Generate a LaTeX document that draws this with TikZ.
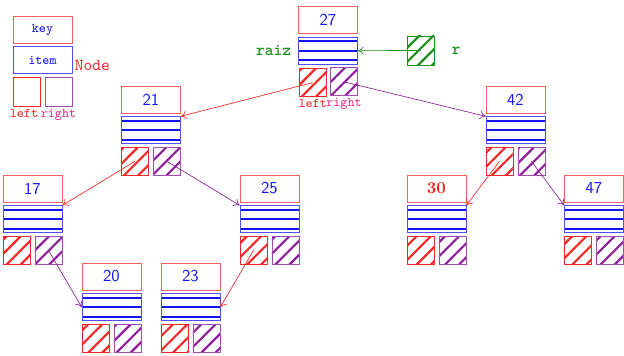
\documentclass[tikz,border=0pt]{standalone}
\definecolor{cRed}{HTML}{F02828}
\definecolor{cPurp}{HTML}{8E1E9C}
\definecolor{cPink}{HTML}{E0338C}
\definecolor{cGrn}{HTML}{1C921C}
\definecolor{cBlu}{HTML}{1414F0}
\usetikzlibrary{positioning,calc,patterns.meta,arrows.meta}

\begin{document}
\begin{tikzpicture}[x=0.6pt,y=-0.6pt,
      kbox/.style={draw=cRed!75,minimum width=35.4pt,minimum height=16.2pt,
                   inner sep=0pt,font=\sffamily,text=cBlu},
      ibox/.style={draw=cBlu!75,minimum width=35.4pt,minimum height=16.2pt,
                   inner sep=0pt,font=\footnotesize\ttfamily,text=cBlu},
      lines/.style={ibox,path picture={
                   \foreach \f in {0.15,0.5,0.85}
                     \draw[cBlu,line width=1.2pt]
                       ($(path picture bounding box.north west)!\f!(path picture bounding box.south west)$) --
                       ($(path picture bounding box.north east)!\f!(path picture bounding box.south east)$);}},
      lbox/.style={draw=cRed,minimum width=16.2pt,minimum height=16.8pt,inner sep=0pt},
      rbox/.style={draw=cPurp!80,minimum width=16.2pt,minimum height=16.8pt,inner sep=0pt},
      lhat/.style={lbox,pattern={Lines[angle=45,distance=6pt,line width=1.3pt]},pattern color=cRed},
      rhat/.style={rbox,pattern={Lines[angle=45,distance=6pt,line width=1.3pt]},pattern color=cPurp},
      lbl/.style={font=\footnotesize\ttfamily,inner sep=0.5pt},
      rarr/.style={-{To[length=3.5pt,width=5pt]},color=cRed},
      parr/.style={-{To[length=3.5pt,width=5pt]},color=cPurp},
      garr/.style={-{To[length=3.5pt,width=5pt]},color=cGrn}]
    \useasboundingbox (0,0) rectangle (624,356);
    % legend
    \node[kbox,font=\footnotesize\ttfamily] (lk) at (42.5,29.5) {key};
    \node[ibox,below=1.8pt of lk] (li) {item};
    \node[lbox,minimum height=17.4pt,below=1.8pt of li.south west,anchor=north west] (ll) {};
    \node[rbox,minimum height=17.4pt,below=1.8pt of li.south east,anchor=north east] (lr) {};
    \node[lbl,text=cRed,below=1pt of ll,xshift=-1.5pt] {left};
    \node[lbl,text=cPink,below=1pt of lr] {right};
    \node[font=\ttfamily,text=cRed,inner sep=1pt,anchor=west] at ($(li.east)+(0.5,5)$) {Node};
    % tree nodes
    \node[kbox] (k27) at (328,20) {27};
    \node[lines,below=1.8pt of k27] (i27) {};
    \node[lhat,below=1.8pt of i27.south west,anchor=north west] (l27) {};
    \node[rhat,below=1.8pt of i27.south east,anchor=north east] (r27) {};
    \node[lbl,text=cRed,below=0.5pt of l27] {left};
    \node[lbl,text=cPink,below=0.5pt of r27] {right};

    \node[kbox] (k21) at (151,99.5) {21};
    \node[lines,below=1.8pt of k21] (i21) {};
    \node[lhat,below=1.8pt of i21.south west,anchor=north west] (l21) {};
    \node[rhat,below=1.8pt of i21.south east,anchor=north east] (r21) {};

    \node[kbox] (k42) at (515.5,99.5) {42};
    \node[lines,below=1.8pt of k42] (i42) {};
    \node[lhat,below=1.8pt of i42.south west,anchor=north west] (l42) {};
    \node[rhat,below=1.8pt of i42.south east,anchor=north east] (r42) {};

    \node[kbox] (k17) at (32.5,188.5) {17};
    \node[lines,below=1.8pt of k17] (i17) {};
    \node[lhat,below=1.8pt of i17.south west,anchor=north west] (l17) {};
    \node[rhat,below=1.8pt of i17.south east,anchor=north east] (r17) {};

    \node[kbox] (k25) at (269.5,188.5) {25};
    \node[lines,below=1.8pt of k25] (i25) {};
    \node[lhat,below=1.8pt of i25.south west,anchor=north west] (l25) {};
    \node[rhat,below=1.8pt of i25.south east,anchor=north east] (r25) {};

    \node[kbox,font=\rmfamily\bfseries,text=cRed] (k30) at (436.5,188.5) {30};
    \node[lines,below=1.8pt of k30] (i30) {};
    \node[lhat,below=1.8pt of i30.south west,anchor=north west] (l30) {};
    \node[rhat,below=1.8pt of i30.south east,anchor=north east] (r30) {};

    \node[kbox] (k47) at (594,188.5) {47};
    \node[lines,below=1.8pt of k47] (i47) {};
    \node[lhat,below=1.8pt of i47.south west,anchor=north west] (l47) {};
    \node[rhat,below=1.8pt of i47.south east,anchor=north east] (r47) {};

    \node[kbox] (k20) at (111.5,276.5) {20};
    \node[lines,below=1.8pt of k20] (i20) {};
    \node[lhat,below=1.8pt of i20.south west,anchor=north west] (l20) {};
    \node[rhat,below=1.8pt of i20.south east,anchor=north east] (r20) {};

    \node[kbox] (k23) at (190.5,276.5) {23};
    \node[lines,below=1.8pt of k23] (i23) {};
    \node[lhat,below=1.8pt of i23.south west,anchor=north west] (l23) {};
    \node[rhat,below=1.8pt of i23.south east,anchor=north east] (r23) {};
    % root pointer
    \node[draw=cGrn,minimum width=16.2pt,minimum height=17.4pt,inner sep=0pt,
          pattern={Lines[angle=45,distance=6pt,line width=1.3pt]},pattern color=cGrn] (rt) at (420.5,50.5) {};
    \node[font=\ttfamily\bfseries,text=cGrn,right=7pt of rt] (rn) {r};
    \node[font=\ttfamily\bfseries,text=cGrn,inner sep=1pt,left=3pt of i27] (rz) {raiz};
    % links
    \draw[garr] (rt.center) -- (i27.east);
    \draw[rarr] (l27.center) -- (i21.north east);
    \draw[parr] (r27.center) -- (i42.north west);
    \draw[rarr] (l21.center) -- (i17.north east);
    \draw[parr] (r21.center) -- (i25.north west);
    \draw[parr] (r17.center) -- (i20.west);
    \draw[rarr] (l25.center) -- (i23.east);
    \draw[rarr] (l42.center) -- (i30.north east);
    \draw[parr] (r42.center) -- (i47.north west);
  \end{tikzpicture}
\end{document}
